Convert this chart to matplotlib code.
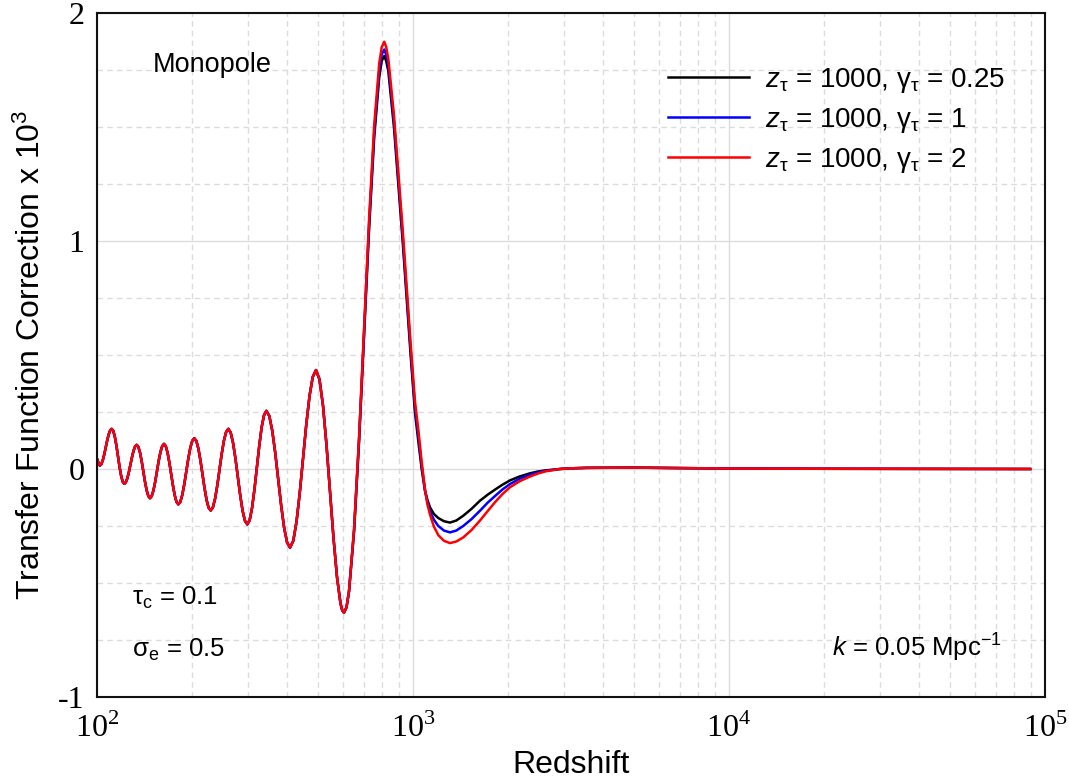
import numpy as np
import matplotlib
matplotlib.use('Agg')
import matplotlib.pyplot as plt
from matplotlib.ticker import FixedLocator, FuncFormatter, NullFormatter

plt.rcParams['font.family'] = ['Liberation Sans', 'DejaVu Sans']
plt.rcParams['mathtext.fontset'] = 'custom'
plt.rcParams['mathtext.rm'] = 'Liberation Serif'
plt.rcParams['mathtext.sf'] = 'Liberation Sans'
plt.rcParams['mathtext.it'] = 'Liberation Sans:italic'

# oscillating part, identical for all three models (log10 of redshift)
log_z_osc = [2.000, 2.0045, 2.009,
             2.0137, 2.0184, 2.0231, 2.0278, 2.0324, 2.0371, 2.0418, 2.0465,
             2.0515, 2.0565, 2.0615, 2.0665, 2.0714, 2.0764, 2.0814, 2.0864,
             2.0913, 2.0962, 2.1011, 2.1060, 2.1109, 2.1158, 2.1207, 2.1256,
             2.1309, 2.1361, 2.1414, 2.1467, 2.1519, 2.1572, 2.1625, 2.1677,
             2.1732, 2.1788, 2.1843, 2.1899, 2.1954, 2.2009, 2.2065, 2.2120,
             2.2177, 2.2234, 2.2290, 2.2347, 2.2404, 2.2461, 2.2517, 2.2574,
             2.2637, 2.2700, 2.2763, 2.2827, 2.2890, 2.2953, 2.3016, 2.3079,
             2.3144, 2.3209, 2.3274, 2.3339, 2.3403, 2.3468, 2.3533, 2.3598,
             2.3668, 2.3737, 2.3807, 2.3877, 2.3946, 2.4016, 2.4085, 2.4155,
             2.4230, 2.4305, 2.4380, 2.4456, 2.4531, 2.4606, 2.4681, 2.4756,
             2.4832, 2.4907, 2.4983, 2.5058, 2.5134, 2.5209, 2.5285, 2.5360,
             2.5454, 2.5547, 2.5641, 2.5734, 2.5828, 2.5921, 2.6015, 2.6108,
             2.6211, 2.6314, 2.6416, 2.6519, 2.6622, 2.6725, 2.6828, 2.6930,
             2.7041, 2.7152, 2.7262, 2.7373, 2.7484, 2.7595, 2.7705, 2.7760, 2.7816]
corr_osc = [0.045, 0.028, 0.015,
            0.021, 0.039, 0.065, 0.096, 0.126, 0.152, 0.170, 0.176,
            0.167, 0.141, 0.102, 0.056, 0.009, -0.030, -0.056, -0.065,
            -0.058, -0.040, -0.012, 0.021, 0.053, 0.081, 0.099, 0.106,
            0.097, 0.072, 0.034, -0.011, -0.056, -0.094, -0.119, -0.128,
            -0.119, -0.093, -0.055, -0.009, 0.037, 0.075, 0.101, 0.110,
            0.100, 0.071, 0.028, -0.023, -0.073, -0.116, -0.145, -0.155,
            -0.144, -0.113, -0.066, -0.010, 0.046, 0.093, 0.124, 0.135,
            0.123, 0.089, 0.037, -0.024, -0.084, -0.136, -0.170, -0.182,
            -0.168, -0.130, -0.072, -0.003, 0.066, 0.124, 0.162, 0.176,
            0.160, 0.115, 0.047, -0.034, -0.114, -0.182, -0.227, -0.243,
            -0.224, -0.170, -0.089, 0.006, 0.101, 0.182, 0.236, 0.255,
            0.232, 0.167, 0.070, -0.045, -0.160, -0.257, -0.322, -0.345,
            -0.315, -0.231, -0.105, 0.045, 0.194, 0.320, 0.404, 0.434,
            0.393, 0.278, 0.106, -0.098, -0.302, -0.474, -0.589, -0.620, -0.630]

# main peak, trough and tail, where the three models differ
log_z_peak = [2.7896, 2.7975, 2.8135, 2.8294, 2.8453, 2.8612, 2.8772, 2.8931, 2.901, 2.909,
              2.915, 2.9218, 2.9399, 2.9535, 2.9674, 2.980, 2.9927, 3.0063, 3.017, 3.0275,
              3.038, 3.0455, 3.0538, 3.066, 3.080, 3.098, 3.117, 3.137, 3.159, 3.185,
              3.212, 3.236, 3.260, 3.283, 3.307, 3.337, 3.370, 3.395, 3.420, 3.465,
              3.500, 3.550, 3.700, 3.850, 4.000, 4.300, 4.953]
corr_g025 = [-0.607, -0.537, -0.273, 0.124, 0.591, 1.057, 1.454, 1.718, 1.790, 1.811,
             1.790, 1.746, 1.497, 1.249, 0.997, 0.747, 0.496, 0.247, 0.120, 0.000,
             -0.095, -0.135, -0.168, -0.197, -0.215, -0.229, -0.235, -0.226, -0.205, -0.175,
             -0.139, -0.113, -0.090, -0.069, -0.050, -0.033, -0.019, -0.011, -0.006, 0.000,
             0.003, 0.005, 0.006, 0.004, 0.002, 0.001, 0.000]
corr_g1 = [-0.606, -0.536, -0.268, 0.132, 0.605, 1.078, 1.478, 1.746, 1.818, 1.840,
           1.818, 1.772, 1.522, 1.274, 1.022, 0.772, 0.521, 0.270, 0.145, 0.015,
           -0.095, -0.145, -0.185, -0.222, -0.250, -0.270, -0.278, -0.270, -0.250, -0.220,
           -0.183, -0.148, -0.118, -0.090, -0.066, -0.043, -0.025, -0.015, -0.008, 0.000,
           0.003, 0.005, 0.006, 0.004, 0.002, 0.001, 0.000]
corr_g2 = [-0.606, -0.535, -0.263, 0.143, 0.622, 1.101, 1.507, 1.779, 1.850, 1.874,
           1.852, 1.800, 1.550, 1.300, 1.048, 0.797, 0.546, 0.295, 0.170, 0.030,
           -0.090, -0.155, -0.200, -0.252, -0.290, -0.315, -0.325, -0.318, -0.300, -0.268,
           -0.226, -0.185, -0.145, -0.110, -0.080, -0.054, -0.033, -0.020, -0.010, 0.000,
           0.003, 0.005, 0.006, 0.004, 0.002, 0.001, 0.000]

labels = [r'$\mathit{z}_{\mathsf{τ}}$ = 1000, $\mathsf{γ}_{\mathsf{τ}}$ = 0.25',
          r'$\mathit{z}_{\mathsf{τ}}$ = 1000, $\mathsf{γ}_{\mathsf{τ}}$ = 1',
          r'$\mathit{z}_{\mathsf{τ}}$ = 1000, $\mathsf{γ}_{\mathsf{τ}}$ = 2']
colors = ['black', '#0000ff', '#ff0000']

fig = plt.figure(figsize=(10.69, 7.8), dpi=100)
ax = fig.add_axes([97 / 1069, 83 / 780, 948 / 1069, 684 / 780])

z_all = np.power(10.0, np.concatenate([log_z_osc, log_z_peak]))
for corr, col, lab in zip([corr_g025, corr_g1, corr_g2], colors, labels):
    ax.plot(z_all, np.concatenate([corr_osc, corr]), color=col, lw=1.8, label=lab,
            solid_joinstyle='round')

ax.set_xscale('log')
ax.set_xlim(1e2, 1e5)
ax.set_ylim(-1, 2)

# grid: solid major, dashed minor
ax.xaxis.set_major_locator(FixedLocator([1e2, 1e3, 1e4, 1e5]))
ax.xaxis.set_minor_locator(FixedLocator([m * 10 ** e for e in (2, 3, 4) for m in range(2, 10)]))
ax.yaxis.set_major_locator(FixedLocator([-1, 0, 1, 2]))
ax.yaxis.set_minor_locator(FixedLocator([-0.75, -0.5, -0.25, 0.25, 0.5, 0.75, 1.25, 1.5, 1.75]))
ax.xaxis.set_major_formatter(FuncFormatter(lambda v, p: r'$\mathrm{10}^{\mathrm{%d}}$' % round(np.log10(v))))
ax.xaxis.set_minor_formatter(NullFormatter())
ax.yaxis.set_major_formatter(FuncFormatter(lambda v, p: '%d' % v))
ax.grid(which='major', color='#dcdcdc', lw=1.0, ls='-')
ax.grid(which='minor', color='#dcdcdc', lw=1.0, ls=(0, (4, 3)))
ax.set_axisbelow(True)
ax.tick_params(which='both', length=0)
ax.tick_params(axis='x', pad=12, labelsize=23)
ax.tick_params(axis='y', pad=9, labelsize=23)
for t in ax.get_yticklabels():
    t.set_family('Liberation Serif')
for s in ax.spines.values():
    s.set_linewidth(1.5)
    s.set_color('#111111')

ax.set_xlabel('Redshift', fontsize=23, labelpad=4)
ax.set_ylabel(r'Transfer Function Correction x 10$^{\mathsf{3}}$', fontsize=23, labelpad=8)

ax.text(0.059, 0.914, 'Monopole', transform=ax.transAxes, fontsize=19.5, va='baseline')
ax.text(0.037, 0.135, r'$\mathsf{τ}_{\mathsf{c}}$ = 0.1', transform=ax.transAxes, fontsize=18.5, va='baseline')
ax.text(0.037, 0.059, r'$\mathsf{σ}_{\mathsf{e}}$ = 0.5', transform=ax.transAxes, fontsize=18.5, va='baseline')
ax.text(0.775, 0.059, r'$\mathit{k}$ = 0.05 Mpc$^{\mathsf{-1}}$', transform=ax.transAxes, fontsize=18.5, va='baseline')

ax.legend(loc='upper left', bbox_to_anchor=(0.6023, 0.923), frameon=False, fontsize=20,
          handlelength=2.9, handletextpad=0.6, labelspacing=0.4, borderpad=0, borderaxespad=0)

fig.savefig('out.png', dpi=100)
